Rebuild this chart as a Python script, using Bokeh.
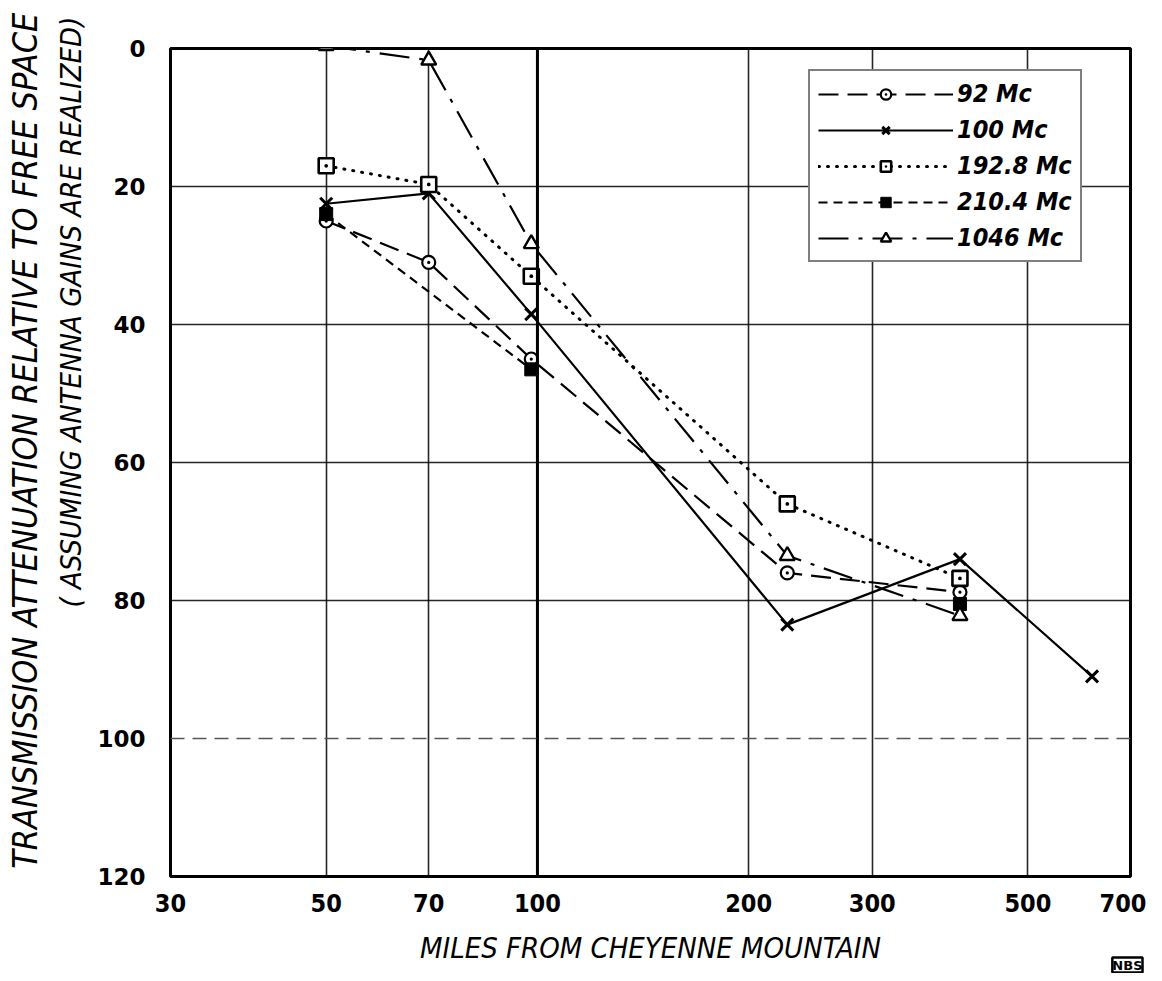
import math
from bokeh.plotting import figure
from bokeh.models import (Range1d, FixedTicker, PrintfTickFormatter, Legend,
                          LegendItem, Title, Span)
from bokeh.embed import file_html
from bokeh.resources import INLINE

# ---------------- data ----------------
x_ticks = [30, 50, 70, 100, 200, 300, 500, 700]
y_ticks = [0, 20, 40, 60, 80, 100, 120]

miles_92 = [50, 70, 98, 227, 400]
att_92 = [25.0, 31.0, 45.0, 76.0, 78.8]

miles_100 = [50, 70, 98, 227, 400, 617]
att_100 = [22.5, 21.0, 38.5, 83.5, 74.0, 91.0]

miles_192 = [50, 70, 98, 227, 400]
att_192 = [17.0, 19.7, 33.0, 66.0, 76.8]

miles_210 = [50, 98, 227, 400]
att_210 = [24.0, 46.5, float("nan"), 80.5]

miles_1046 = [50, 70, 98, 227, 400]
att_1046 = [-0.4, 1.7, 28.3, 73.5, 82.2]

labels = ["92 Mc", "100 Mc", "192.8 Mc", "210.4 Mc", "1046 Mc"]

x_title = "MILES FROM CHEYENNE MOUNTAIN"
y_title1 = "TRANSMISSION  ATTENUATION  RELATIVE  TO FREE SPACE"
y_title2 = "( ASSUMING  ANTENNA  GAINS  ARE  REALIZED)"
logo_text = "NBS"

NARROW = "'Liberation Sans Narrow', 'DejaVu Sans Condensed', 'Liberation Sans', sans-serif"

# ---------------- figure ----------------
p = figure(width=1146, height=973, x_axis_type="log",
           x_range=Range1d(30, 700), y_range=Range1d(120, 0),
           output_backend="svg", toolbar_location=None,
           min_border_left=170, min_border_right=16,
           min_border_top=48, min_border_bottom=97,
           background_fill_color="white", border_fill_color="white")

p.outline_line_color = "black"
p.outline_line_width = 3

# axes
p.xaxis.ticker = FixedTicker(ticks=x_ticks)
p.xaxis.formatter = PrintfTickFormatter(format="%d")
p.yaxis.ticker = FixedTicker(ticks=y_ticks)
p.yaxis.formatter = PrintfTickFormatter(format="%d")
for ax in (p.xaxis, p.yaxis):
    ax.axis_line_color = None
    ax.major_tick_line_color = None
    ax.minor_tick_line_color = None
    ax.major_tick_out = 0
    ax.major_tick_in = 0
    ax.major_label_text_color = "black"
    ax.major_label_text_font_style = "bold"

p.xaxis.major_label_text_font = NARROW
p.xaxis.major_label_text_font_size = "25px"
p.xaxis.major_label_standoff = 17
p.yaxis.major_label_text_font = "DejaVu Sans"
p.yaxis.major_label_text_font_size = "23px"
p.yaxis.major_label_standoff = 25

p.xaxis.axis_label = x_title
p.xaxis.axis_label_text_font = NARROW
p.xaxis.axis_label_text_font_style = "italic"
p.xaxis.axis_label_text_font_size = "29px"
p.xaxis.axis_label_text_color = "black"
p.xaxis.axis_label_standoff = 16

t2 = Title(text=y_title2, align="right", text_font=NARROW,
           text_font_style="italic", text_font_size="29px",
           text_color="black", standoff=14, offset=-65)
p.add_layout(t2, "left")
t1 = Title(text=y_title1, align="right", text_font=NARROW,
           text_font_style="italic", text_font_size="34px",
           text_color="black", standoff=0, offset=-65)
p.add_layout(t1, "left")

logo = Title(text=logo_text, align="right", vertical_align="top",
             text_font="DejaVu Sans", text_font_style="bold",
             text_font_size="13px", text_color="black",
             standoff=-20, offset=-12,
             border_line_color="black", border_line_width=2.5,
             background_fill_color="white")
p.add_layout(logo, "below")

# grids
p.xgrid.ticker = FixedTicker(ticks=x_ticks)
p.ygrid.ticker = FixedTicker(ticks=[20, 40, 60, 80])
for g in (p.xgrid, p.ygrid):
    g.grid_line_color = "black"
    g.grid_line_alpha = 0.85
    g.grid_line_width = 1.6
p.add_layout(Span(location=100, dimension="height", line_color="black",
                  line_width=3))
p.add_layout(Span(location=100, dimension="width", line_color="#555555",
                  line_width=1.3, line_dash="14 8"))

# ---------------- series ----------------
lw = 2.2
r92l = p.line(miles_92, att_92, line_color="black", line_width=lw,
              line_dash="20 9")
r92m = p.scatter(miles_92, att_92, marker="circle_dot", size=13,
                 line_color="black", line_width=2.2, fill_color="white")

r100l = p.line(miles_100, att_100, line_color="black", line_width=lw)
r100m = p.scatter(miles_100, att_100, marker="x", size=17,
                  line_color="black", line_width=3)

r192l = p.line(miles_192, att_192, line_color="black", line_width=3,
               line_dash="1 8", line_cap="round")
r192m = p.scatter(miles_192, att_192, marker="square_dot", size=15,
                  line_color="black", line_width=2.6, fill_color="white")

r210l = p.line(miles_210, att_210, line_color="black", line_width=lw,
               line_dash="9 6")
r210m = p.scatter(miles_210, att_210, marker="square", size=13,
                  line_color="black", fill_color="black")

r1046l = p.line(miles_1046, att_1046, line_color="black", line_width=lw,
                line_dash="30 10 4 10")
r1046m = p.scatter(miles_1046, att_1046, marker="triangle", size=15,
                   line_color="black", line_width=2.4, fill_color="white")

legend = Legend(items=[
    LegendItem(label=labels[0], renderers=[r92l, r92m]),
    LegendItem(label=labels[1], renderers=[r100l, r100m]),
    LegendItem(label=labels[2], renderers=[r192l, r192m]),
    LegendItem(label=labels[3], renderers=[r210l, r210m]),
    LegendItem(label=labels[4], renderers=[r1046l, r1046m]),
], location=(638, 614))
legend.border_line_color = "black"
legend.border_line_width = 2.5
legend.background_fill_color = "white"
legend.background_fill_alpha = 1
legend.label_text_font = NARROW
legend.label_text_font_style = "bold italic"
legend.label_text_font_size = "25px"
legend.label_text_color = "black"
legend.glyph_width = 135
legend.glyph_height = 26
legend.spacing = 7
legend.padding = 8
legend.margin = 0
legend.label_standoff = 4
legend.label_height = 26
p.add_layout(legend)

open("out.html", "w").write(file_html(p, INLINE))
